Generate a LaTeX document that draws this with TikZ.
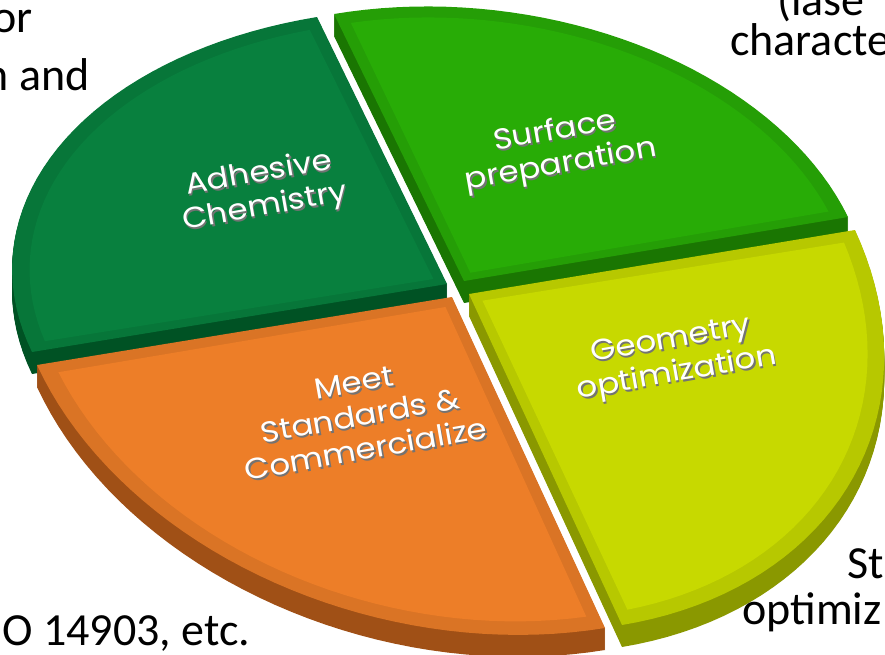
\documentclass[tikz,border=0pt]{standalone}
\usepackage{fontspec}
\setmainfont{Carlito}
\newfontfamily\slicefont{Poppins}
\usepackage{tikz}
\definecolor{chemgreen}{RGB}{8,128,62}
\definecolor{chemside}{RGB}{0,82,36}
\definecolor{surfgreen}{RGB}{40,172,6}
\definecolor{surfside}{RGB}{26,118,2}
\definecolor{meetorange}{RGB}{237,126,40}
\definecolor{meetside}{RGB}{160,80,22}
\definecolor{geomlime}{RGB}{199,217,0}
\definecolor{geomside}{RGB}{138,152,0}

% one quarter of the disc, in the slice's own plane
\newcommand{\sectorpath}{(0,0) -- plot[domain=0:90,samples=40,variable=\t] ({cos(\t)},{sin(\t)}) -- cycle}
\newcommand{\innerpath}{(0.025,0.025) -- plot[domain=1.8:88.2,samples=40,variable=\t] ({0.96*cos(\t)},{0.96*sin(\t)}) -- cycle}

% #1 plane, #2 top colour, #3 side colour
\newcommand{\pieslice}[3]{%
  \begin{scope}[#1]
    \foreach \d in {1,...,22} {\fill[#3, yshift=-\d pt] \sectorpath;}
    \fill[#2!92!black] \sectorpath;
    \fill[#2] \innerpath;
  \end{scope}}

% #1 name, #2 x, #3 y, #4 text
\newcommand{\slicelabel}[4]{%
  \node[slicetext, text=black!55] (#1-shadow) at ({#2+1.5},{#3+2}) {#4};
  \node[slicetext, text=white] (#1) at (#2,#3) {#4};}

\tikzset{
  chemplane/.style={shift={(447,284)}, x={(-415pt,-68pt)}, y={(-130pt,267pt)}},
  surfplane/.style={shift={(464,281)}, x={(-130pt,267pt)}, y={(384pt,64pt)}},
  meetplane/.style={shift={(452,297)}, x={(-415pt,-68pt)}, y={(153pt,-331pt)}},
  geomplane/.style={shift={(469,294)}, x={(386pt,64pt)}, y={(153pt,-331pt)}},
  slicetext/.style={font=\slicefont\fontsize{29}{34}\selectfont, align=center,
    rotate=10, xscale=1.12, inner sep=0pt},
  note/.style={font=\fontsize{46}{56}\selectfont, inner sep=0pt},
}

\begin{document}
\begin{tikzpicture}[x=1pt, y=-1pt]
  \useasboundingbox (0,0) rectangle (885,655);
  \clip (0,0) rectangle (885,655);

  % Slices, back ones first
  \pieslice{chemplane}{chemgreen}{chemside}
  \pieslice{surfplane}{surfgreen}{surfside}
  \pieslice{meetplane}{meetorange}{meetside}
  \pieslice{geomplane}{geomlime}{geomside}

  % Slice labels
  \slicelabel{chem}{262}{191}{Adhesive\\Chemistry}
  \slicelabel{surf}{558}{149}{Surface\\preparation}
  \slicelabel{meet}{360}{416}{Meet\\Standards \&\\Commercialize}
  \slicelabel{geom}{674}{358}{Geometry\\optimization}

  % Notes cut by the frame
  \node[note, anchor=base east] (leftor) at (33,33) {or};
  \node[note, anchor=base east] (leftand) at (90,91) {n and};
  \node[note, anchor=base west] (rightlase) at (777,16) {(lase};
  \node[note, anchor=base west] (rightchar) at (730,56) {characte};
  \node[note, anchor=base west] (rightst) at (847,578) {St};
  \node[note, anchor=base west] (rightopt) at (742,624) {optimiz};
  \node[note, anchor=base west] (bottomiso) at (2,645) {O 14903, etc.};
\end{tikzpicture}
\end{document}
